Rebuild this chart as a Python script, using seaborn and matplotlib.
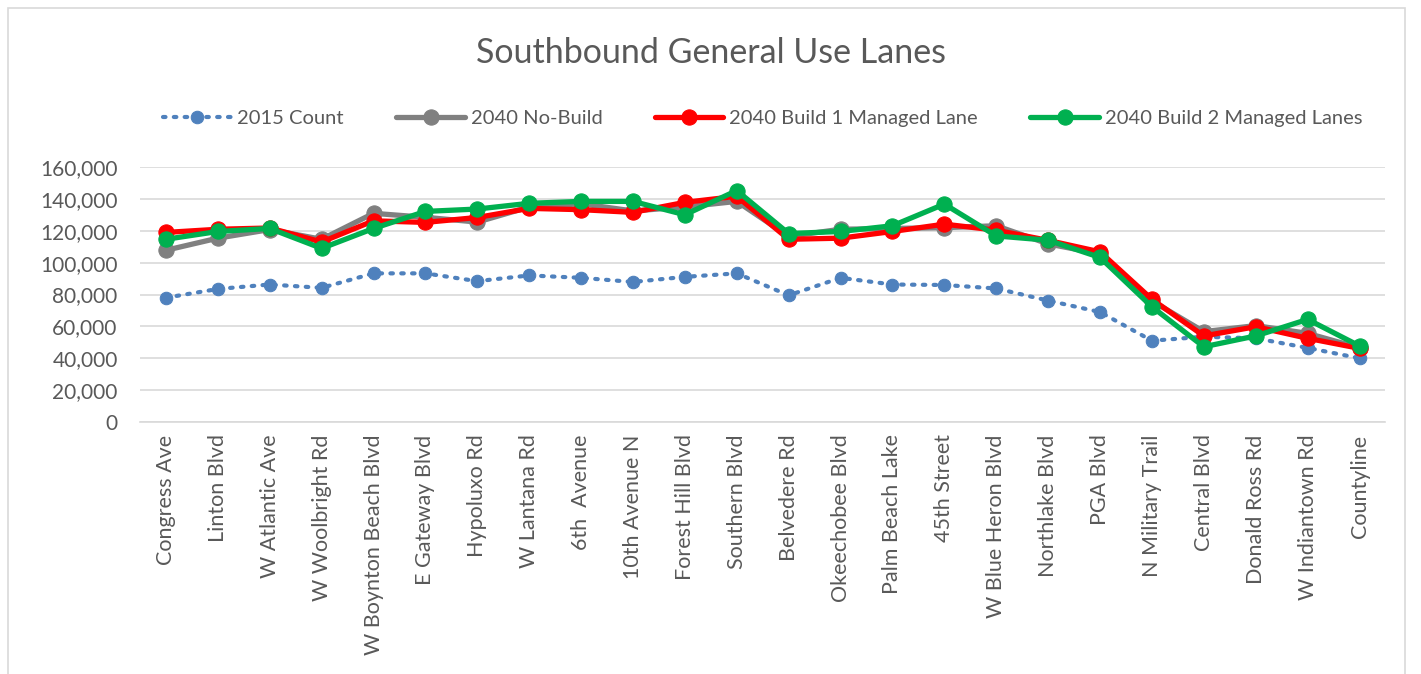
import matplotlib
matplotlib.use('Agg')
import matplotlib.pyplot as plt
import matplotlib.ticker as mticker
from matplotlib.patches import Rectangle
import pandas as pd
import seaborn as sns

locations = [
    'Congress Ave', 'Linton Blvd', 'W Atlantic Ave', 'W Woolbright Rd',
    'W Boynton Beach Blvd', 'E Gateway Blvd', 'Hypoluxo Rd', 'W Lantana Rd',
    '6th  Avenue', '10th Avenue N', 'Forest Hill Blvd', 'Southern Blvd',
    'Belvedere Rd', 'Okeechobee Blvd', 'Palm Beach Lake', '45th Street',
    'W Blue Heron Blvd', 'Northlake Blvd', 'PGA Blvd', 'N Military Trail',
    'Central Blvd', 'Donald Ross Rd', 'W Indiantown Rd', 'Countyline',
]

count_2015 = [78000, 83500, 86300, 84200, 93300, 93300, 88400, 92000,
              90500, 87900, 91100, 93300, 79500, 90500, 86300, 86000,
              83800, 76200, 69000, 51000, 53500, 52500, 46500, 40000]
no_build = [107800, 115400, 120800, 114700, 131000, 128500, 125500, 135000,
            137000, 132500, 135000, 138500, 116500, 121000, 121500, 122000,
            123200, 111800, 105500, 76000, 56700, 60500, 55600, 46500]
build_1 = [119000, 121000, 121800, 113000, 126300, 125300, 128400, 134100,
           133300, 131600, 137900, 141700, 114700, 115400, 119600, 124200,
           120400, 114000, 106800, 77000, 54000, 59800, 52500, 46200]
build_2 = [114700, 119600, 121500, 109000, 121500, 132200, 133700, 137300,
           138500, 138500, 130100, 145300, 118300, 119600, 123200, 136800,
           116800, 114100, 103300, 72300, 47200, 54000, 64400, 47700]

series_names = ['2015 Count', '2040 No-Build', '2040 Build 1 Managed Lane',
                '2040 Build 2 Managed Lanes']
series_values = [count_2015, no_build, build_1, build_2]
colors = ['#4F81BD', '#808080', '#FF0000', '#00B050']


def main():
    sns.set_theme(style='white')
    plt.rcParams['font.family'] = ['Lato', 'DejaVu Sans']
    text_color = '#595959'

    fig = plt.figure(figsize=(14.21, 6.74), dpi=100)
    ax = fig.add_axes([0.0985, 0.374, 0.8765, 0.378])

    for name, vals, col in zip(series_names, series_values, colors):
        df = pd.DataFrame({'location': locations, 'volume': vals})
        if name == '2015 Count':
            sns.lineplot(data=df, x='location', y='volume', sort=False, ax=ax,
                         color=col, linewidth=3, linestyle=(0, (0.6, 2.0)),
                         dash_capstyle='round', marker='o', markersize=9,
                         markeredgecolor=col, label=name, zorder=2)
        else:
            sns.lineplot(data=df, x='location', y='volume', sort=False, ax=ax,
                         color=col, linewidth=3.8, marker='o', markersize=11,
                         markeredgecolor=col, label=name, zorder=3)

    ax.set_xlim(-0.5, len(locations) - 0.5)
    ax.set_ylim(0, 160000)
    ax.yaxis.set_major_locator(mticker.MultipleLocator(20000))
    ax.yaxis.set_major_formatter(mticker.FuncFormatter(lambda v, p: f'{int(v):,}'))
    ax.grid(axis='y', color='#D9D9D9', linewidth=1.2)
    ax.set_axisbelow(True)
    for s in ['top', 'right', 'left']:
        ax.spines[s].set_visible(False)
    ax.spines['bottom'].set_color('#D9D9D9')
    ax.spines['bottom'].set_linewidth(1.2)
    ax.set_xlabel('')
    ax.set_ylabel('')
    ax.tick_params(axis='x', labelrotation=90, labelsize=15.5, colors=text_color,
                   length=0, pad=9)
    ax.tick_params(axis='y', labelsize=15, colors=text_color, length=0, pad=16)

    ax.legend(loc='lower center', bbox_to_anchor=(0.5, 1.085), ncol=4,
              frameon=False, fontsize=14.5, labelcolor=text_color,
              handlelength=3.4, columnspacing=2.6, handletextpad=0.3)

    fig.text(0.5, 0.922, 'Southbound General Use Lanes', ha='center',
             va='center', fontsize=24.5, color=text_color)

    fig.patches.append(Rectangle((8 / 1421, -0.2), 1405 / 1421 - 8 / 1421,
                                 1.2 - 8 / 674, transform=fig.transFigure,
                                 fill=False, edgecolor='#D9D9D9',
                                 linewidth=1.2))

    fig.savefig('out.png', dpi=100)


if __name__ == '__main__':
    main()
